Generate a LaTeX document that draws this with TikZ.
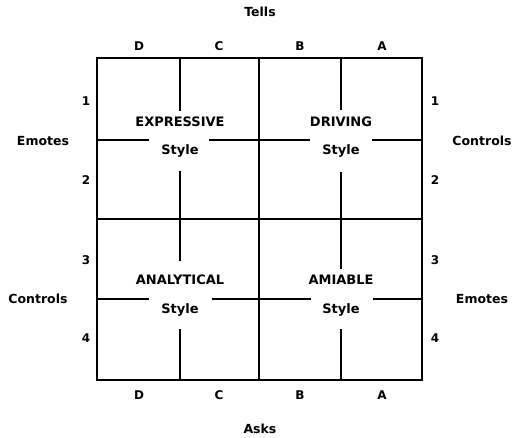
\documentclass[tikz,border=0pt]{standalone}
\usepackage{fontspec}
\setmainfont{DejaVu Sans}
\usetikzlibrary{positioning}

\begin{document}
\begin{tikzpicture}[
    x=1pt, y=-1pt,
    every node/.style={font=\bfseries\fontsize{12}{14}\selectfont, inner sep=1pt},
    frame/.style={line width=2.8pt, black},
    part/.style={line width=2pt, black},
    style/.style={font=\bfseries\fontsize{13}{15}\selectfont},
    axis/.style={font=\bfseries\fontsize{12.5}{15}\selectfont}
]
    \useasboundingbox (0,0) rectangle (521,438);

    % Outer box and centre cross
    \draw[frame] (97,58) rectangle (422,380);
    \draw[frame] (259,58) -- (259,380);
    \draw[frame] (97,219) -- (422,219);

    % Style names
    \node[style] (EX)  at (180,122) {EXPRESSIVE};
    \node[style] (EXs) at (180,151) {Style};
    \node[style] (DR)  at (341,122) {DRIVING};
    \node[style] (DRs) at (341,151) {Style};
    \node[style] (AN)  at (180,280) {ANALYTICAL};
    \node[style] (ANs) at (180,310) {Style};
    \node[style] (AM)  at (341,280) {AMIABLE};
    \node[style] (AMs) at (341,310) {Style};

    % Broken quarter lines
    \draw[part] (180,58) -- (180,111);
    \draw[part] (180,171) -- (180,261);
    \draw[part] (180,329) -- (180,380);
    \draw[part] (341,58) -- (341,110);
    \draw[part] (341,172) -- (341,269);
    \draw[part] (341,329) -- (341,380);
    \draw[part] (97,140) -- (149,140);
    \draw[part] (209,140) -- (310,140);
    \draw[part] (372,140) -- (422,140);
    \draw[part] (97,299) -- (149,299);
    \draw[part] (212,299) -- (311,299);
    \draw[part] (373,299) -- (422,299);

    % Column letters
    \node (D1) at (139,46) {D};
    \node (C1) at (219,46) {C};
    \node (B1) at (300,46) {B};
    \node (A1) at (382,46) {A};
    \node (D2) at (139,395) {D};
    \node (C2) at (219,395) {C};
    \node (B2) at (300,395) {B};
    \node (A2) at (382,395) {A};

    % Row numbers
    \node (L1) at (86,101) {1};
    \node (L2) at (86,180) {2};
    \node (L3) at (86,260) {3};
    \node (L4) at (86,338) {4};
    \node (R1) at (435,101) {1};
    \node (R2) at (435,180) {2};
    \node (R3) at (435,260) {3};
    \node (R4) at (435,338) {4};

    % Axis words
    \node[axis] (tells) at (260,12)  {Tells};
    \node[axis] (asks)  at (260,429) {Asks};
    \node[axis] (emL)   at (43,141)  {Emotes};
    \node[axis] (coL)   at (38,299)  {Controls};
    \node[axis] (coR)   at (482,141) {Controls};
    \node[axis] (emR)   at (482,299) {Emotes};

\end{tikzpicture}
\end{document}
